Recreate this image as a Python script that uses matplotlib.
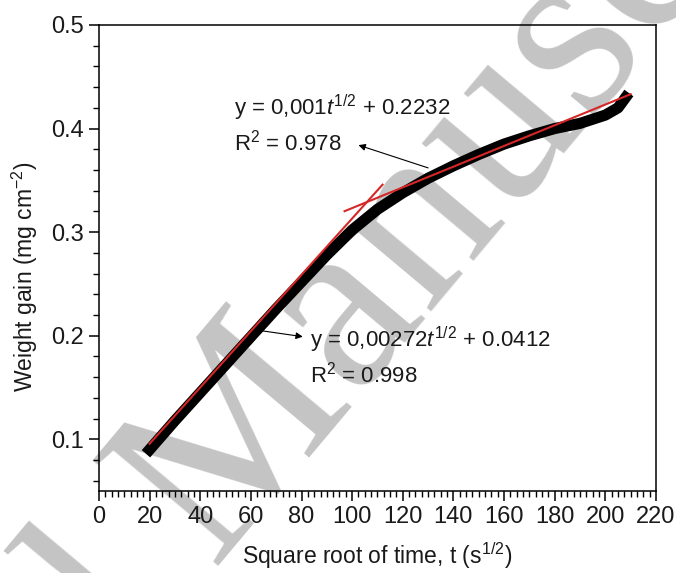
import matplotlib
matplotlib.use("Agg")
import matplotlib.pyplot as plt
from matplotlib.ticker import MultipleLocator

plt.rcParams['font.family'] = ['Liberation Sans', 'DejaVu Sans']
plt.rcParams['mathtext.fontset'] = 'custom'
plt.rcParams['mathtext.rm'] = 'Liberation Sans'
plt.rcParams['mathtext.it'] = 'Liberation Sans:italic'

sqrt_t = [20, 30, 40, 50, 60, 70, 80, 90, 100, 110, 120, 130,
          140, 150, 160, 170, 180, 190, 200, 205, 208]
weight_gain = [0.090, 0.118, 0.145, 0.172, 0.199, 0.226, 0.252, 0.278, 0.302,
               0.322, 0.338, 0.352, 0.364, 0.375, 0.385, 0.393, 0.400, 0.405,
               0.413, 0.420, 0.430]

# linear fit segments (end points)
fit1_x = [20, 112]
fit1_y = [0.0956, 0.3458]
fit2_x = [97, 210]
fit2_y = [0.3202, 0.4332]

fit1_label = "y = 0,00272$\\mathit{t}^{\\mathrm{1/2}}$ + 0.0412\nR$^{2}$ = 0.998"
fit2_label = "y = 0,001$\\mathit{t}^{\\mathrm{1/2}}$ + 0.2232\nR$^{2}$ = 0.978"

fig = plt.figure(figsize=(6.76, 5.73), dpi=100)
ax = fig.add_axes([0.1464, 0.1431, 0.824, 0.8133])

# watermark behind everything
ax.text(0.2, 0.02, "Accepted Manuscript", transform=ax.transAxes,
        fontsize=180, family='Liberation Serif', color='#c4c4c4',
        rotation=50, rotation_mode='anchor', ha='center', va='center',
        zorder=0.5, clip_on=False)

ax.plot(sqrt_t, weight_gain, color='black', linewidth=8,
        solid_capstyle='projecting', zorder=2)
ax.plot(fit1_x, fit1_y, color='#d62728', linewidth=1.5, zorder=3)
ax.plot(fit2_x, fit2_y, color='#d62728', linewidth=1.5, zorder=3)

ax.annotate(fit2_label, xy=(102.5, 0.384), xytext=(53.5, 0.4045),
            fontsize=16, color='#1a1a1a', va='center', linespacing=1.3,
            zorder=4)
ax.annotate("", xy=(102.5, 0.384), xytext=(130, 0.362),
            arrowprops=dict(arrowstyle='-|>', color='black', lw=0.8,
                            mutation_scale=10, shrinkA=0, shrinkB=0))
ax.annotate(fit1_label, xy=(80, 0.198), xytext=(83.5, 0.18),
            fontsize=16, color='#1a1a1a', va='center', linespacing=1.3,
            zorder=4)
ax.annotate("", xy=(80.5, 0.199), xytext=(63.5, 0.205),
            arrowprops=dict(arrowstyle='-|>', color='black', lw=0.8,
                            mutation_scale=10, shrinkA=0, shrinkB=0))

ax.set_xlim(0, 220)
ax.set_ylim(0.05, 0.5)
ax.xaxis.set_major_locator(MultipleLocator(20))
ax.xaxis.set_minor_locator(MultipleLocator(2.5))
ax.yaxis.set_major_locator(MultipleLocator(0.1))
ax.yaxis.set_minor_locator(MultipleLocator(0.02))
ax.tick_params(which='major', direction='out', length=7, width=1.1,
               labelsize=17, labelcolor='#1a1a1a', pad=4)
ax.tick_params(which='minor', direction='out', length=4, width=1.0)
for s in ax.spines.values():
    s.set_linewidth(1.1)

ax.set_xlabel("Square root of time, t (s$^{1/2}$)", fontsize=16.5,
              color='#1a1a1a', labelpad=9)
ax.set_ylabel("Weight gain (mg cm$^{-2}$)", fontsize=16.5, color='#1a1a1a')
ax.yaxis.set_label_coords(-0.105, 0.46)

fig.savefig("out.png", dpi=100)
